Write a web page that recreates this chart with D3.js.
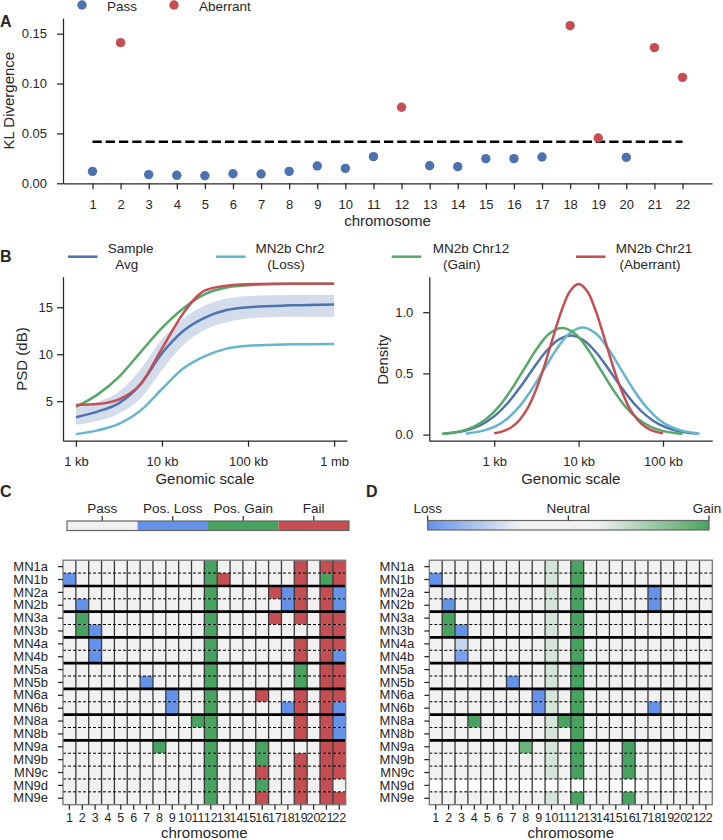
<!DOCTYPE html>
<html><head><meta charset="utf-8">
<script src="https://cdn.jsdelivr.net/npm/d3@7"></script>
<style>body{margin:0;background:#fff}svg{display:block}</style>
</head><body>
<svg id="fig" width="723" height="840"></svg>
<script>
// ---------------- DATA ----------------
// Panel A
const chromosomes = [1,2,3,4,5,6,7,8,9,10,11,12,13,14,15,16,17,18,19,20,21,22];
const klDivergence = [0.012,0.141,0.0087,0.008,0.0076,0.0096,0.0093,0.012,0.0173,0.015,0.0267,0.0762,0.0176,0.0167,0.0247,0.0247,0.0264,0.158,0.0454,0.026,0.136,0.1062];
const klStatus = ["Pass","Aberrant","Pass","Pass","Pass","Pass","Pass","Pass","Pass","Pass","Pass","Aberrant","Pass","Pass","Pass","Pass","Pass","Aberrant","Aberrant","Pass","Aberrant","Aberrant"];
const klThreshold = 0.0417;
const klTicks = [0.00,0.05,0.10,0.15];

// Panel B left (x = log10 genomic scale in bp)
const psdScale = [3.0,3.25,3.5,3.75,4.0,4.25,4.5,4.75,5.0,5.5,6.0];
const psdSampleAvg = [3.3,3.9,4.8,6.8,10.1,12.5,13.9,14.7,15.0,15.2,15.3];
const psdSampleHigh = [4.3,4.9,6.0,8.4,11.6,13.8,15.2,15.9,16.2,16.3,16.3];
const psdSampleLow = [2.5,2.9,3.7,5.3,8.3,11.0,12.6,13.4,13.8,14.0,14.0];
const psdChr2Loss = [1.5,1.9,2.6,4.0,6.3,8.5,9.8,10.6,10.9,11.05,11.1];
const psdChr12Gain = [4.4,5.7,7.6,10.2,12.8,14.9,16.4,17.1,17.35,17.5,17.5];
const psdChr21Aberrant = [4.6,4.7,5.2,6.8,10.6,14.4,16.8,17.3,17.45,17.5,17.5];
const psdYTicks = [5,10,15];
const psdXTicks = [3,4,5,6];
const psdXLabels = ["1 kb","10 kb","100 kb","1 mb"];

// Panel B right (density over log10 genomic scale)
const densAvgX = [2.406,2.556,2.706,2.856,3.006,3.156,3.306,3.456,3.606,3.756,3.906,4.056,4.206,4.356,4.506,4.656,4.806,4.956,5.106,5.256,5.406];
const densAvgY = [0.008,0.019,0.042,0.083,0.153,0.254,0.386,0.534,0.673,0.773,0.81,0.773,0.673,0.534,0.386,0.254,0.153,0.083,0.042,0.019,0.008];
const densLossX = [2.661,2.697,2.847,2.997,3.147,3.297,3.447,3.597,3.747,3.897,4.047,4.197,4.347,4.497,4.647,4.797,4.947,5.097,5.247,5.397,5.433];
const densLossY = [0.009,0.011,0.028,0.062,0.126,0.228,0.370,0.539,0.705,0.829,0.875,0.829,0.705,0.539,0.370,0.228,0.126,0.062,0.028,0.011,0.009];
const densGainX = [2.38,2.455,2.605,2.755,2.905,3.055,3.205,3.355,3.505,3.655,3.805,3.955,4.105,4.255,4.405,4.555,4.705,4.855,5.005,5.155,5.23];
const densGainY = [0.007,0.011,0.028,0.063,0.127,0.228,0.370,0.537,0.702,0.825,0.87,0.825,0.702,0.537,0.370,0.228,0.127,0.063,0.028,0.011,0.007];
const densAberrX = [3.0,3.1,3.2,3.3,3.4,3.5,3.6,3.7,3.8,3.9,4.0,4.1,4.2,4.3,4.4,4.5,4.6,4.7,4.8,4.9,5.0];
const densAberrY = [0.011,0.026,0.058,0.119,0.221,0.374,0.574,0.801,1.017,1.173,1.23,1.173,1.017,0.801,0.574,0.374,0.221,0.119,0.058,0.026,0.011];
const densYTicks = [0.0,0.5,1.0];
const densXTicks = [3,4,5];
const densXLabels = ["1 kb","10 kb","100 kb"];

// Legend of panel B
const bLegendNames = [["Sample","Avg"],["MN2b Chr2","(Loss)"],["MN2b Chr12","(Gain)"],["MN2b Chr21","(Aberrant)"]];

// Panels C / D
const samples = ["MN1a","MN1b","MN2a","MN2b","MN3a","MN3b","MN4a","MN4b","MN5a","MN5b","MN6a","MN6b","MN8a","MN8b","MN9a","MN9b","MN9c","MN9d","MN9e"];
const callCategories = ["Pass","Pos. Loss","Pos. Gain","Fail"];
// 0 Pass, 1 Pos. Loss, 2 Pos. Gain, 3 Fail
const calls = [
 [0,0,0,0,0,0,0,0,0,0,0,2,0,0,0,0,0,0,3,0,3,3],
 [1,0,0,0,0,0,0,0,0,0,0,2,3,0,0,0,0,0,3,0,2,3],
 [0,0,0,0,0,0,0,0,0,0,0,2,0,0,0,0,3,1,3,0,3,1],
 [0,1,0,0,0,0,0,0,0,0,0,2,0,0,0,0,0,1,3,0,3,1],
 [0,2,0,0,0,0,0,0,0,0,0,2,0,0,0,0,3,0,3,0,3,3],
 [0,2,1,0,0,0,0,0,0,0,0,2,0,0,0,0,0,0,0,0,3,3],
 [0,0,1,0,0,0,0,0,0,0,0,2,0,0,0,0,0,0,3,0,3,3],
 [0,0,1,0,0,0,0,0,0,0,0,2,0,0,0,0,0,0,3,0,3,1],
 [0,0,0,0,0,0,0,0,0,0,0,2,0,0,0,0,0,0,2,0,3,3],
 [0,0,0,0,0,0,1,0,0,0,0,2,0,0,0,0,0,0,2,0,3,3],
 [0,0,0,0,0,0,0,0,1,0,0,2,0,0,0,3,0,0,3,0,3,3],
 [0,0,0,0,0,0,0,0,1,0,0,2,0,0,0,0,0,1,3,0,3,1],
 [0,0,0,0,0,0,0,0,0,0,2,2,0,0,0,0,0,0,3,0,3,1],
 [0,0,0,0,0,0,0,0,0,0,0,2,0,0,0,0,0,0,3,0,3,1],
 [0,0,0,0,0,0,0,2,0,0,0,2,0,0,0,2,0,0,0,0,3,3],
 [0,0,0,0,0,0,0,0,0,0,0,2,0,0,0,2,0,0,3,0,3,3],
 [0,0,0,0,0,0,0,0,0,0,0,2,0,0,0,3,0,0,3,0,3,3],
 [0,0,0,0,0,0,0,0,0,0,0,2,0,0,0,2,0,0,3,0,3,0],
 [0,0,0,0,0,0,0,0,0,0,0,2,0,0,0,3,0,0,3,0,3,3]
];
// copy-number score: -1 loss .. 0 neutral .. +1 gain, null = missing
const cnScore = [
 [0,0,0,0,0,0,0,0,0,0.33,0,1,0,0,0,0,0,0,0,0,0,0],
 [-1,0,0,0,0,0,0,0,0,0.33,0,1,0,0,0,0,0,0,0,0,0,0],
 [0,-0.38,0,0,0,0,0,0,0,0.33,0,1,0,0,0,0,0,-1,0,0,0,0],
 [0,-1,0,0,0,0,0,0,0,0.33,0,1,0,0,0,0,0,-1,0,0,0,0],
 [0,1,0,0,0,0,0,0,0,0.33,0,1,0,0,0,0,0,0,0,0,0,0],
 [0,1,-1,0,0,0,0,0,0,0.33,0,1,0,0,0,0,0,0,0,0,0,0],
 [0,0,-0.55,0,0,0,0,0,0,0.33,0,1,0,0,0,0,0,0,0,0,0,0],
 [0,0,-0.9,0,0,0,0,0,0,0.33,0,1,0,0,0,0,0,0,0,0,0,0],
 [0,0,0,0,0,0,0,0,0,0.33,0,1,0,0,0,0,0,0,0,0,0,0],
 [0,0,0,0,0,0,-1,0,0,0.33,0,1,0,0,0,0,0,0,0,0,0,0],
 [0,0,0,0,0,0,0,0,-1,0.33,0,1,0,0,0,0,0,0,0,0,0,0],
 [0,0,0,0,0,0,0,0,-1,0.33,0,1,0,0,0,0,0,-1,0,0,0,0],
 [0,0,0,1,0,0,0,0,0,0.33,1,1,0,0,0,0,0,0,0,0,0,0],
 [0,0,0,0,0,0,0,0,0,0.33,0,1,0,0,0,0,0,0,0,0,0,0],
 [0,0,0,0,0,0,0,0.83,0,0.33,0,1,0,0,0,1,0,0,0,0,0,0],
 [0,0,0,0,0,0,0,0,0,0.33,0,1,0,0,0,1,0,0,0,0,0,0],
 [0,0,0,0,0,0,0,0,0,0.33,0,1,0,0,0,1,0,0,0,0,0,0],
 [null,null,null,null,null,null,null,null,null,null,null,null,null,null,null,null,null,null,null,null,null,null],
 [0,0,0,0,0,0,0,0,0,0.33,0,1,0,0,0,1,0,0,0,0,0,0]
];
const cnLabels = ["Loss","Neutral","Gain"];
const cnLabelValues = [-1,0,1];

// ---------------- STYLE ----------------
const FONT = '"Liberation Sans", Arial, Helvetica, sans-serif';
const TXT = "#262626";
const BLUE = "#4c72b0", RED = "#c44e52", GREEN = "#55a868", CYAN = "#64b5cd";
const CALL_COLORS = ["#f1f1f1","#6492e8","#47a35f","#c44e52"];

const svg = d3.select("#fig");
svg.append("rect").attr("width",723).attr("height",840).attr("fill","#fff");

function styleAxis(g, fs){
  g.attr("font-family", FONT).attr("font-size", fs);
  g.select(".domain").attr("stroke", TXT).attr("stroke-width", 1.25);
  g.selectAll(".tick line").attr("stroke", TXT).attr("stroke-width", 1.25);
  g.selectAll(".tick text").attr("fill", TXT);
}
function label(x, y, txt, opts={}){
  const t = svg.append("text").attr("x", x).attr("y", y).text(txt)
    .attr("font-family", FONT).attr("font-size", opts.size || 15)
    .attr("fill", TXT).attr("text-anchor", opts.anchor || "middle");
  if (opts.bold) t.attr("font-weight", "bold");
  if (opts.rotate) t.attr("transform", `rotate(-90,${x},${y})`);
  return t;
}

// ---------------- PANEL A ----------------
const xA = d3.scaleLinear().domain([-0.05, 23.05]).range([63, 712]);
const yA = d3.scaleLinear().domain([0, 0.1655]).range([183.3, 18.2]);
styleAxis(svg.append("g").attr("transform","translate(0,183.3)")
  .call(d3.axisBottom(xA).tickValues(chromosomes).tickSizeInner(6).tickSizeOuter(0).tickPadding(10)), 13);
styleAxis(svg.append("g").attr("transform","translate(63,0)")
  .call(d3.axisLeft(yA).tickValues(klTicks).tickFormat(d3.format(".2f")).tickSizeInner(6).tickSizeOuter(0).tickPadding(10)), 13);
svg.append("line")
  .attr("x1", xA(chromosomes[0])).attr("x2", xA(chromosomes[chromosomes.length-1]))
  .attr("y1", yA(klThreshold)).attr("y2", yA(klThreshold))
  .attr("stroke", "#000").attr("stroke-width", 2.5).attr("stroke-dasharray", "9.25,4");
svg.append("g").selectAll("circle").data(chromosomes).join("circle")
  .attr("cx", (d)=>xA(d)).attr("cy", (d,i)=>yA(klDivergence[i])).attr("r", 4.7)
  .attr("fill", (d,i)=>klStatus[i]==="Pass" ? BLUE : RED);
// legend A
[["Pass",BLUE,82],["Aberrant",RED,174]].forEach(([n,c,x])=>{
  svg.append("circle").attr("cx",x).attr("cy",5).attr("r",4.7).attr("fill",c);
  label(x+25, 10.5, n, {anchor:"start", size:13.5});
});
label(387.5, 226, "chromosome");
label(14, 100.7, "KL Divergence", {rotate:true});
label(0, 26.7, "A", {anchor:"start", size:16, bold:true});

// ---------------- PANEL B (left) ----------------
const xP = d3.scaleLinear().domain([2.85, 6.15]).range([63, 347]);
const yP = d3.scaleLinear().domain([0.8, 18.25]).range([440.7, 276.7]);
styleAxis(svg.append("g").attr("transform","translate(0,440.7)")
  .call(d3.axisBottom(xP).tickValues(psdXTicks).tickFormat((d,i)=>psdXLabels[i]).tickSizeInner(6).tickSizeOuter(0).tickPadding(10)), 13);
styleAxis(svg.append("g").attr("transform","translate(63,0)")
  .call(d3.axisLeft(yP).tickValues(psdYTicks).tickSizeInner(6).tickSizeOuter(0).tickPadding(4)), 13);
svg.append("path").datum(psdScale)
  .attr("d", d3.area().x(d=>xP(d)).y0((d,i)=>yP(psdSampleLow[i])).y1((d,i)=>yP(psdSampleHigh[i])).curve(d3.curveMonotoneX))
  .attr("fill", BLUE).attr("fill-opacity", 0.25);
const psdLine = (vals) => d3.line().x((d)=>xP(d)).y((d,i)=>yP(vals[i])).curve(d3.curveMonotoneX)(psdScale);
[[psdSampleAvg,BLUE],[psdChr2Loss,CYAN],[psdChr12Gain,GREEN],[psdChr21Aberrant,RED]].forEach(([v,c])=>{
  svg.append("path").attr("d", psdLine(v)).attr("fill","none").attr("stroke",c).attr("stroke-width",2.5);
});
label(205, 484, "Genomic scale");
label(26.5, 359, "PSD (dB)", {rotate:true});
label(0, 262.3, "B", {anchor:"start", size:16, bold:true});

// ---------------- PANEL B (right) ----------------
const xD = d3.scaleLinear().domain([2.231, 5.584]).range([429.3, 712.3]);
const yD = d3.scaleLinear().domain([-0.05, 1.29]).range([440.7, 276.7]);
styleAxis(svg.append("g").attr("transform","translate(0,440.7)")
  .call(d3.axisBottom(xD).tickValues(densXTicks).tickFormat((d,i)=>densXLabels[i]).tickSizeInner(6).tickSizeOuter(0).tickPadding(10)), 13);
styleAxis(svg.append("g").attr("transform","translate(429.3,0)")
  .call(d3.axisLeft(yD).tickValues(densYTicks).tickFormat(d3.format(".1f")).tickSizeInner(6).tickSizeOuter(0).tickPadding(10)), 13);
const densLine = (xs, ys) => d3.line().x((d)=>xD(d)).y((d,i)=>yD(ys[i])).curve(d3.curveCatmullRom)(xs);
[[densAvgX,densAvgY,BLUE],[densLossX,densLossY,CYAN],[densGainX,densGainY,GREEN],[densAberrX,densAberrY,RED]].forEach(([xs,ys,c])=>{
  svg.append("path").attr("d", densLine(xs,ys)).attr("fill","none").attr("stroke",c).attr("stroke-width",2.5);
});
label(570.8, 484, "Genomic scale");
label(388, 359.7, "Density", {rotate:true});

// legend B
const bLegendColors = [BLUE, CYAN, GREEN, RED];
const bLegendLineX = [68, 216, 391.7, 576];
const bLegendTextX = [[130.7,126.7],[290,286],[471,461.7],[654,650]];
bLegendNames.forEach((nm,i)=>{
  svg.append("line").attr("x1",bLegendLineX[i]).attr("x2",bLegendLineX[i]+29.5)
    .attr("y1",256.7).attr("y2",256.7).attr("stroke",bLegendColors[i]).attr("stroke-width",2.5);
  label(bLegendTextX[i][0], 253.3, nm[0], {size:13.5});
  label(bLegendTextX[i][1], 269, nm[1], {size:13.5});
});

// ---------------- HEATMAPS ----------------
function heatmap(x0, x1, fillFn){
  const xs = d3.scaleBand().domain(chromosomes).range([x0, x1]);
  const ys = d3.scaleBand().domain(samples).range([560.2, 804.7]);
  const g = svg.append("g");
  samples.forEach((s,r)=>{
    chromosomes.forEach((c,k)=>{
      g.append("rect").attr("x", xs(c)).attr("y", ys(s)).attr("width", xs.bandwidth()).attr("height", ys.bandwidth())
        .attr("fill", fillFn(r,k));
    });
  });
  // vertical separators
  chromosomes.slice(1).forEach((c)=>{
    g.append("line").attr("x1", xs(c)).attr("x2", xs(c)).attr("y1", 560.2).attr("y2", 804.7)
      .attr("stroke", "#3a3a3a").attr("stroke-width", 1.3);
  });
  // horizontal separators
  samples.slice(1).forEach((s,i)=>{
    const prev = samples[i];
    const newGroup = prev.slice(0,3) !== s.slice(0,3);
    const l = g.append("line").attr("x1", x0).attr("x2", x1).attr("y1", ys(s)).attr("y2", ys(s)).attr("stroke", "#000");
    if (newGroup) l.attr("stroke-width", 2.6);
    else l.attr("stroke-width", 1).attr("stroke-dasharray", "3,2");
  });
  g.append("rect").attr("x", x0).attr("y", 560.2).attr("width", x1-x0).attr("height", 804.7-560.2)
    .attr("fill","none").attr("stroke","#777").attr("stroke-width",1.3);
  const ax = svg.append("g").attr("transform",`translate(0,804.7)`)
    .call(d3.axisBottom(xs).tickSizeInner(5).tickSizeOuter(0).tickPadding(3.5));
  styleAxis(ax, 12.5); ax.select(".domain").remove();
  const ay = svg.append("g").attr("transform",`translate(${x0},0)`)
    .call(d3.axisLeft(ys).tickSizeInner(5).tickSizeOuter(0).tickPadding(10));
  styleAxis(ay, 13); ay.select(".domain").remove();
  label((x0+x1)/2, 838, "chromosome");
}

// Panel C
heatmap(63, 345.7, (r,k)=>CALL_COLORS[calls[r][k]]);
const cbC = d3.scaleBand().domain(callCategories).range([67, 349]);
callCategories.forEach((cat,i)=>{
  svg.append("rect").attr("x", cbC(cat)).attr("y", 521).attr("width", cbC.bandwidth()).attr("height", 9.5)
    .attr("fill", CALL_COLORS[i]);
  const cx = cbC(cat) + cbC.bandwidth()/2;
  svg.append("line").attr("x1",cx).attr("x2",cx).attr("y1",516).attr("y2",521).attr("stroke",TXT).attr("stroke-width",1.2);
  label(cx, 513, cat, {size:13.5});
});
svg.append("rect").attr("x",67).attr("y",521).attr("width",282).attr("height",9.5)
  .attr("fill","none").attr("stroke","#666").attr("stroke-width",1.2);
label(0, 497, "C", {anchor:"start", size:16, bold:true});

// Panel D
const cnColor = d3.scaleLinear().domain([-1,-0.34,0.2,1]).range(["#6492e8","#f1f1f1","#f1f1f1","#47a35f"]).clamp(true);
heatmap(429.3, 712.3, (r,k)=>{ const v = cnScore[r][k]; return v===null ? "#ffffff" : cnColor(v); });
const cbD = d3.scaleLinear().domain([-1,1]).range([427.7, 709]);
const grad = svg.append("defs").append("linearGradient").attr("id","cngrad");
cnColor.domain().forEach((v)=>{
  grad.append("stop").attr("offset", ((v+1)/2*100)+"%").attr("stop-color", cnColor(v));
});
svg.append("rect").attr("x",cbD(-1)).attr("y",520.5).attr("width",cbD(1)-cbD(-1)).attr("height",9.5)
  .attr("fill","url(#cngrad)").attr("stroke","#666").attr("stroke-width",1.2);
cnLabelValues.forEach((v,i)=>{
  svg.append("line").attr("x1",cbD(v)).attr("x2",cbD(v)).attr("y1",515.5).attr("y2",520.5).attr("stroke",TXT).attr("stroke-width",1.2);
  label(cbD(v) - (i===2 ? 2 : 0), 513, cnLabels[i], {size:13.5});
});
label(366, 497, "D", {anchor:"start", size:16, bold:true});
</script>
</body></html>
